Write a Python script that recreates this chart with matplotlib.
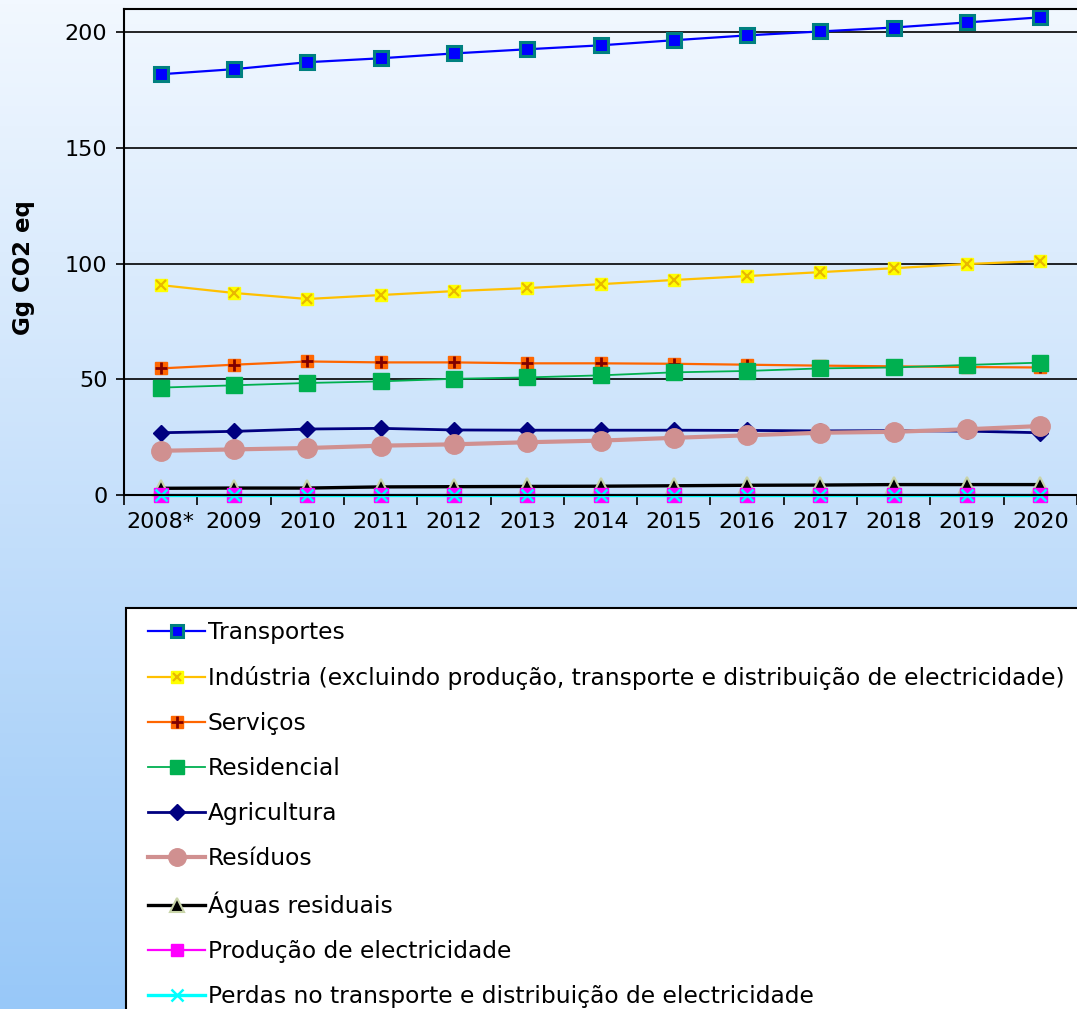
import matplotlib
matplotlib.use("Agg")
import matplotlib.pyplot as plt
import numpy as np
from matplotlib.colors import LinearSegmentedColormap
from matplotlib.patches import Rectangle

# dados (Gg CO2 eq)
anos = ['2008*', '2009', '2010', '2011', '2012', '2013', '2014',
        '2015', '2016', '2017', '2018', '2019', '2020']
transportes = [181.8, 184.0, 187.0, 188.7, 190.8, 192.6, 194.3, 196.5, 198.6, 200.3, 202.0, 204.2, 206.4]
industria = [90.7, 87.3, 84.7, 86.4, 88.1, 89.4, 91.1, 92.9, 94.6, 96.3, 98.0, 99.8, 101.1]
servicos = [54.7, 56.3, 57.7, 57.3, 57.3, 56.9, 56.9, 56.7, 56.3, 55.9, 55.6, 55.3, 55.1]
residencial = [46.4, 47.4, 48.4, 49.1, 50.2, 50.8, 51.7, 53.0, 53.6, 54.7, 55.1, 56.2, 57.2]
agricultura = [26.9, 27.5, 28.5, 28.8, 28.1, 28.0, 28.0, 28.0, 27.9, 27.7, 27.8, 27.6, 26.9]
residuos = [19.1, 19.7, 20.3, 21.3, 21.9, 22.8, 23.5, 24.7, 25.8, 26.9, 27.3, 28.4, 29.8]
aguas = [2.9, 3.0, 3.0, 3.5, 3.6, 3.7, 3.8, 4.0, 4.2, 4.3, 4.5, 4.5, 4.5]
producao = [0.1] * 13
perdas = [0.2] * 13

plt.rcParams['font.family'] = ['DejaVu Sans']

fig = plt.figure(figsize=(10.77, 10.09), dpi=100)

# fundo em degradê
bg = fig.add_axes([0, 0, 1, 1], zorder=-5)
grad = np.linspace(0, 1, 256).reshape(-1, 1)
cmap_bg = LinearSegmentedColormap.from_list('bg', ['#f2f8ff', '#c6e0fb', '#98c8f8'])
bg.imshow(grad, aspect='auto', cmap=cmap_bg, extent=[0, 1, 0, 1], origin='upper')
bg.axis('off')

ax = fig.add_axes([124 / 1077, 1 - 495 / 1009, 1 - 124 / 1077, (495 - 9) / 1009])
ax.set_facecolor('none')
x = np.arange(len(anos))

h_tr, = ax.plot(x, transportes, '-s', color='#0000ff', lw=1.6, ms=9.5,
                mfc='#0000ff', mec='#008080', mew=2.2)
h_in1, = ax.plot(x, industria, '-s', color='#ffc000', lw=1.6, ms=9,
                 mfc='#ffff00', mec='#ffff00', mew=1)
h_in2, = ax.plot(x, industria, 'x', color='#e8b800', ms=7, mew=1.6)
h_se1, = ax.plot(x, servicos, '-s', color='#ff6600', lw=1.6, ms=9,
                 mfc='#ff6600', mec='#ff6600', mew=1)
h_se2, = ax.plot(x, servicos, '+', color='#800000', ms=9, mew=2)
h_re, = ax.plot(x, residencial, '-s', color='#00b050', lw=1.3, ms=11,
                mfc='#00b050', mec='#00b050')
h_ag, = ax.plot(x, agricultura, '-D', color='#000080', lw=2, ms=8.5,
                mfc='#000080', mec='#000080')
h_rs, = ax.plot(x, residuos, '-o', color='#d09090', lw=3, ms=14,
                mfc='#d09090', mec='#d09090')
h_ar, = ax.plot(x, aguas, '-^', color='#000000', lw=2.4, ms=11,
                mfc='#000000', mec='#c8d4a8', mew=1.5, clip_on=False)
h_pr, = ax.plot(x, producao, '-s', color='#ff00ff', lw=1.6, ms=10,
                mfc='#ff00ff', mec='#ff00ff', clip_on=False)
h_pe, = ax.plot(x, perdas, '-x', color='#00ffff', lw=2.4, ms=9, mew=1.8,
                clip_on=False)

ax.set_xlim(-0.5, len(anos) - 0.5)
ax.set_ylim(0, 210)
ax.set_yticks([0, 50, 100, 150, 200])
ax.yaxis.grid(True, color='black', lw=1.2)
ax.set_axisbelow(True)

ax.set_xticks(x)
ax.set_xticklabels(anos)
ax.set_xticks(np.arange(-0.5, len(anos), 1), minor=True)
ax.tick_params(axis='x', which='major', length=0, labelsize=16, pad=12)
ax.tick_params(axis='x', which='minor', length=7, width=1.2, direction='out')
ax.tick_params(axis='y', length=6, width=1.2, labelsize=16, pad=6)

for s in ['left', 'bottom', 'top']:
    ax.spines[s].set_color('black')
    ax.spines[s].set_linewidth(1.5)
ax.spines['right'].set_visible(False)

ax.set_ylabel('Gg CO2 eq', fontsize=16.5, fontweight='bold')
ax.yaxis.set_label_coords(-0.093, 0.467)

# caixa da legenda (sai pela direita e por baixo)
fig.patches.append(Rectangle((126 / 1077, -0.05), 1.0, 1 - 608 / 1009 + 0.05,
                             transform=fig.transFigure, facecolor='white',
                             edgecolor='black', lw=1.5, zorder=1))

handles = [h_tr, (h_in1, h_in2), (h_se1, h_se2), h_re, h_ag, h_rs, h_ar, h_pr, h_pe]
labels = ['Transportes',
          'Indústria (excluindo produção, transporte e distribuição de electricidade)',
          'Serviços', 'Residencial', 'Agricultura', 'Resíduos', 'Águas residuais',
          'Produção de electricidade',
          'Perdas no transporte e distribuição de electricidade']
leg = fig.legend(handles, labels, loc='upper left',
                 bbox_to_anchor=(148 / 1077, 1 - 621 / 1009),
                 fontsize=16.8, frameon=False, borderaxespad=0,
                 borderpad=0, labelspacing=0.94, handlelength=2.45,
                 handletextpad=0.1, markerscale=0.9)
leg.set_zorder(2)

fig.savefig('out.png', dpi=100)
